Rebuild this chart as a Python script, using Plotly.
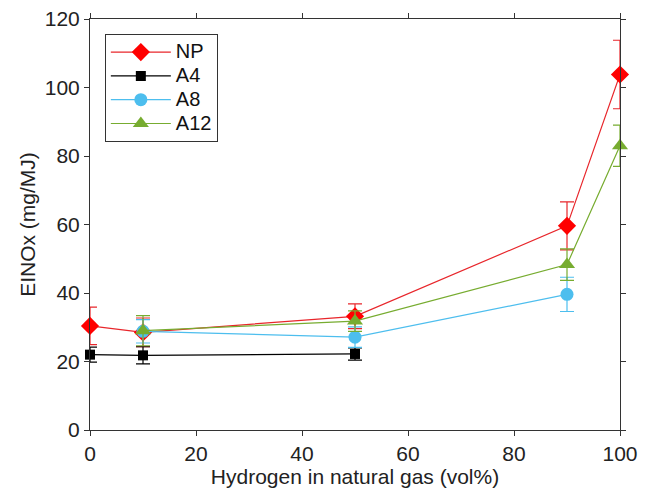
import plotly.graph_objects as go

# Data
np_x = [0, 10, 50, 90, 100]
np_y = [30.4, 28.5, 33.2, 59.6, 103.8]
np_err = [5.5, 4.2, 3.6, 7.0, 10.0]

a4_x = [0, 10, 50]
a4_y = [22.0, 21.8, 22.2]
a4_err = [2.2, 2.5, 1.8]

a8_x = [10, 50, 90]
a8_y = [28.8, 27.1, 39.6]
a8_err = [3.4, 3.0, 5.0]

a12_x = [10, 50, 90, 100]
a12_y = [29.0, 31.8, 48.3, 83.0]
a12_err = [4.4, 3.0, 4.6, 6.0]

series = [
    ("NP", np_x, np_y, np_err, "#ff0000", "#e8262b", "diamond", 14),
    ("A4", a4_x, a4_y, a4_err, "#000000", "#000000", "square", 10),
    ("A8", a8_x, a8_y, a8_err, "#4dbeee", "#4dbeee", "circle", 13),
    ("A12", a12_x, a12_y, a12_err, "#77ac30", "#77ac30", "triangle-up", 14),
]

FONT = "Liberation Sans, Arial, sans-serif"

fig = go.Figure()
for name, xs, ys, es, mcol, lcol, sym, size in series:
    fig.add_trace(go.Scatter(
        x=xs, y=ys, name='<span style="font-size:20px">%s</span>' % name,
        mode="lines+markers", cliponaxis=False,
        line=dict(color=lcol, width=1.2),
        marker=dict(symbol=sym, size=size, color=mcol, line=dict(width=0)),
        error_y=dict(type="data", array=es, visible=True, color=lcol,
                     thickness=1.2, width=7),
    ))

axis_common = dict(
    showline=True, linecolor="#333333", linewidth=1, mirror="ticks",
    ticks="outside", ticklen=5, tickcolor="#333333",
    showgrid=False, zeroline=False, automargin=False,
    ticklabeloverflow="allow",
    tickfont=dict(family=FONT, size=21, color="#222222"),
    title_font=dict(family=FONT, size=21, color="#222222"),
)

fig.update_layout(
    width=648, height=493,
    margin=dict(l=82, r=36, t=11, b=71),
    paper_bgcolor="white", plot_bgcolor="white",
    xaxis=dict(range=[0, 100], tickvals=[0, 20, 40, 60, 80, 100],
               title=dict(text="Hydrogen in natural gas (vol%)", standoff=4), **axis_common),
    yaxis=dict(range=[0, 120], tickvals=[0, 20, 40, 60, 80, 100, 120],
               title=dict(text="EINOx (mg/MJ)", standoff=3), **axis_common),
    legend=dict(x=0.028, y=0.963, xanchor="left", yanchor="top",
                bordercolor="#333333", borderwidth=1, bgcolor="white",
                font=dict(family=FONT, size=16, color="#111111"),
                tracegroupgap=0, itemwidth=60),
    showlegend=True,
)

fig.write_html("out.html")
